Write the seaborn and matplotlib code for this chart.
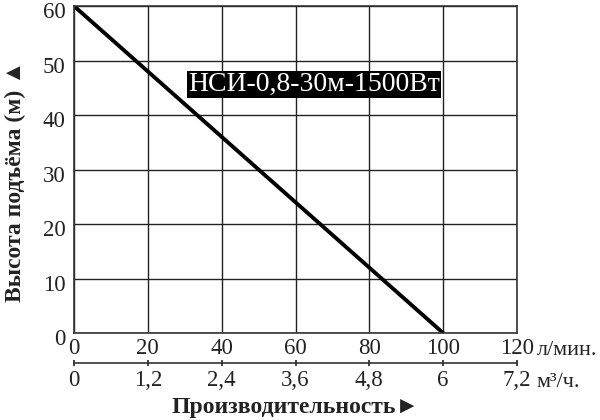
import matplotlib
matplotlib.use("Agg")
import matplotlib.pyplot as plt
import matplotlib.transforms as mtransforms
import seaborn as sns
import pandas as pd

flow_lpm = [0, 100]
head_m = [60, 0]
x_ticks_lpm = [0, 20, 40, 60, 80, 100, 120]
x_ticks_m3h = ["0", "1,2", "2,4", "3,6", "4,8", "6", "7,2"]
y_ticks = [0, 10, 20, 30, 40, 50, 60]
model_label = "НСИ-0,8-30м-1500Вт"

sns.set_theme(style="white")
plt.rcParams['font.family'] = ['Liberation Serif', 'DejaVu Serif']

df = pd.DataFrame({"flow": flow_lpm, "head": head_m})

fig, ax = plt.subplots(figsize=(6, 4.2), dpi=100)
fig.subplots_adjust(left=0.1233, right=0.8617, top=0.9857, bottom=0.207)

sns.lineplot(data=df, x="flow", y="head", color="black", linewidth=2.8, ax=ax)

ax.set_xlim(0, 120)
ax.set_ylim(0, 60)
ax.set_xticks(x_ticks_lpm)
ax.set_yticks(y_ticks)
ax.grid(True, color="#222222", linewidth=1.0)
for s in ax.spines.values():
    s.set_color("#333333")
    s.set_linewidth(1.2)
ax.tick_params(axis="x", length=0, labelsize=16.5, colors="#222222", pad=3.5)
ax.tick_params(axis="y", length=0, labelsize=16.5, colors="#222222", pad=6)
shift = mtransforms.ScaledTranslation(0, -4 / 100, fig.dpi_scale_trans)
for lbl in ax.get_yticklabels():
    lbl.set_transform(lbl.get_transform() + shift)
ax.set_xlabel("")
ax.set_ylabel("Высота подъёма (м) ▲", fontsize=17, fontweight="bold", color="#222222")
ax.yaxis.set_label_coords(-0.108, 0.465)

sec = ax.secondary_xaxis(-0.0917)
sec.set_xticks(x_ticks_lpm)
sec.set_xticklabels(x_ticks_m3h)
sec.tick_params(axis="x", direction="inout", length=5, width=1.2, labelsize=16.5, colors="#222222", pad=2.5)
sec.spines["bottom"].set_color("#333333")
sec.spines["bottom"].set_linewidth(1.2)

ax.text(1.045, -0.052, "л/мин.", transform=ax.transAxes, fontsize=16, color="#222222",
        ha="left", va="center", clip_on=False)
ax.text(1.045, -0.15, "м³/ч.", transform=ax.transAxes, fontsize=16, color="#222222",
        ha="left", va="center", clip_on=False)

ax.text(30.9, 45.6, model_label, fontsize=20, color="white", ha="left", va="center",
        bbox=dict(facecolor="black", edgecolor="none", pad=0.5))

fig.text(295 / 600, 1 - 407 / 420, "Производительность►", fontsize=17, fontweight="bold",
         color="#222222", ha="center", va="center")

fig.savefig("out.png", dpi=100, facecolor="white")
